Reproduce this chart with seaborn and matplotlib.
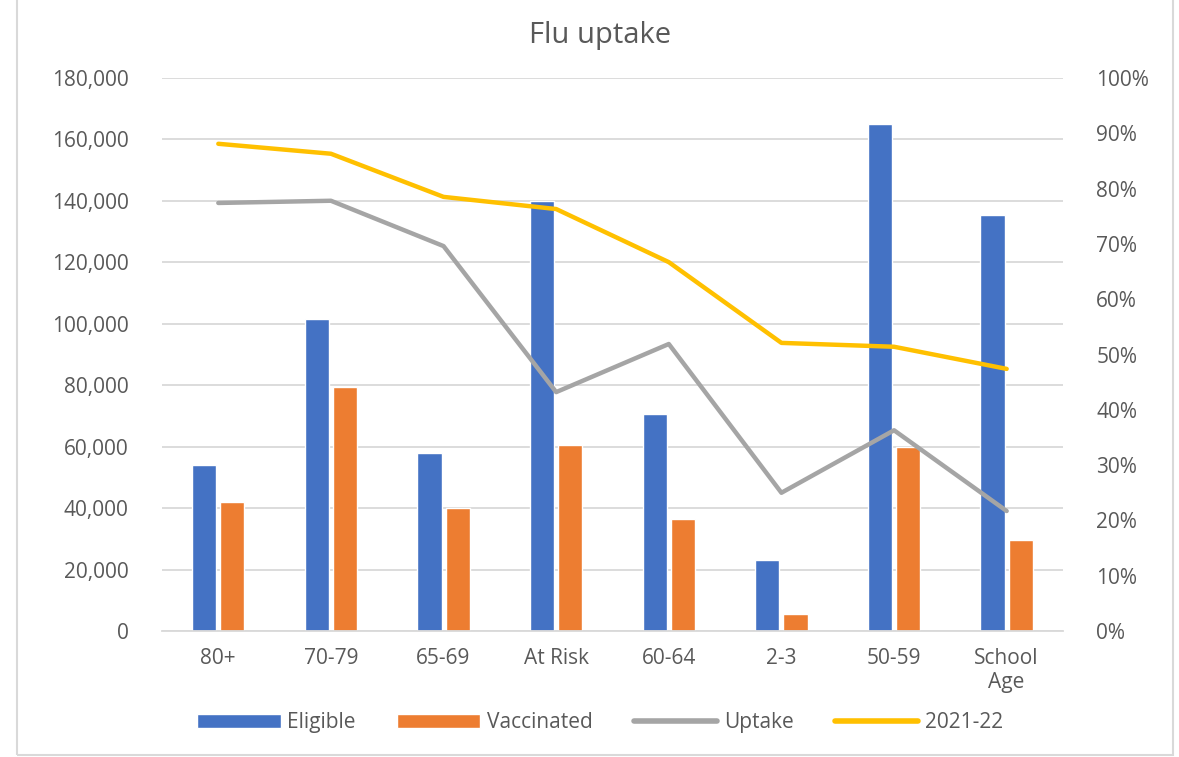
import pandas as pd
import matplotlib.pyplot as plt
import seaborn as sns
import numpy as np
from matplotlib.ticker import FuncFormatter, MultipleLocator
from matplotlib.patches import Patch, Rectangle
from matplotlib.lines import Line2D

# data
groups = ['80+', '70-79', '65-69', 'At Risk', '60-64', '2-3', '50-59', 'School\nAge']
eligible = [54000, 101500, 58000, 140000, 70500, 23000, 165000, 135500]
vaccinated = [42000, 79500, 40000, 60500, 36500, 5500, 60000, 29500]
uptake = [77.4, 77.8, 69.6, 43.2, 51.9, 25.0, 36.3, 21.7]
prev_year = [88.1, 86.3, 78.5, 76.3, 66.7, 52.1, 51.4, 47.4]

c_blue = '#4472C4'
c_orange = '#ED7D31'
c_gray = '#A5A5A5'
c_yellow = '#FFC000'
txt = '#595959'

sns.set_theme(style='white')
plt.rcParams['font.family'] = ['Open Sans', 'DejaVu Sans']

bars = pd.DataFrame({
    'Group': groups * 2,
    'Count': eligible + vaccinated,
    'Series': ['Eligible'] * len(groups) + ['Vaccinated'] * len(groups),
})

fig = plt.figure(figsize=(11.79, 7.57), dpi=100)
ax = fig.add_axes([0.1374, 0.1664, 0.9016 - 0.1374, 0.897 - 0.1664])

sns.barplot(data=bars, x='Group', y='Count', hue='Series',
            palette=[c_blue, c_orange], saturation=1, width=0.5, gap=0.14,
            legend=False, ax=ax)
ax.set_ylim(0, 180000)
ax.set_xlim(-0.5, len(groups) - 0.5)
ax.yaxis.set_major_locator(MultipleLocator(20000))
ax.yaxis.set_major_formatter(FuncFormatter(lambda v, p: f'{int(v):,}'))
ax.grid(axis='y', color='#D9D9D9', lw=1.3)
ax.set_axisbelow(True)
for s in ['top', 'right', 'left']:
    ax.spines[s].set_visible(False)
ax.spines['bottom'].set_color('#D9D9D9')
ax.spines['bottom'].set_linewidth(1.3)
ax.set_xlabel('')
ax.set_ylabel('')
ax.tick_params(axis='y', colors=txt, labelsize=15, length=0, pad=24)
ax.tick_params(axis='x', colors=txt, labelsize=15, length=0, pad=12)

ax2 = ax.twinx()
pos = np.arange(len(groups))
sns.lineplot(x=pos, y=uptake, color=c_gray, lw=3.2, ax=ax2)
sns.lineplot(x=pos, y=prev_year, color=c_yellow, lw=3.2, ax=ax2)
ax2.set_ylim(0, 100)
ax2.yaxis.set_major_locator(MultipleLocator(10))
ax2.yaxis.set_major_formatter(FuncFormatter(lambda v, p: f'{int(v)}%'))
for s in ax2.spines.values():
    s.set_visible(False)
ax2.tick_params(axis='y', colors=txt, labelsize=15, length=0, pad=24)
ax2.grid(False)

fig.text(0.509, 0.953, 'Flu uptake', ha='center', va='center',
         fontsize=21, color=txt)

handles = [
    Patch(facecolor=c_blue, label='Eligible'),
    Patch(facecolor=c_orange, label='Vaccinated'),
    Line2D([], [], color=c_gray, lw=4, label='Uptake'),
    Line2D([], [], color=c_yellow, lw=4, label='2021-22'),
]
leg = fig.legend(handles=handles, loc='center', bbox_to_anchor=(0.509, 0.045),
                 ncol=4, frameon=False, fontsize=15, handlelength=4.0,
                 handleheight=0.7, handletextpad=0.3, columnspacing=2.0)
for t in leg.get_texts():
    t.set_color(txt)

# outer chart border
fig.patches.append(Rectangle((17 / 1179, 2 / 757), (1173 - 17) / 1179, 1.2,
                             transform=fig.transFigure, fill=False,
                             edgecolor='#D9D9D9', lw=1.5))

fig.savefig('out.png', dpi=100)
